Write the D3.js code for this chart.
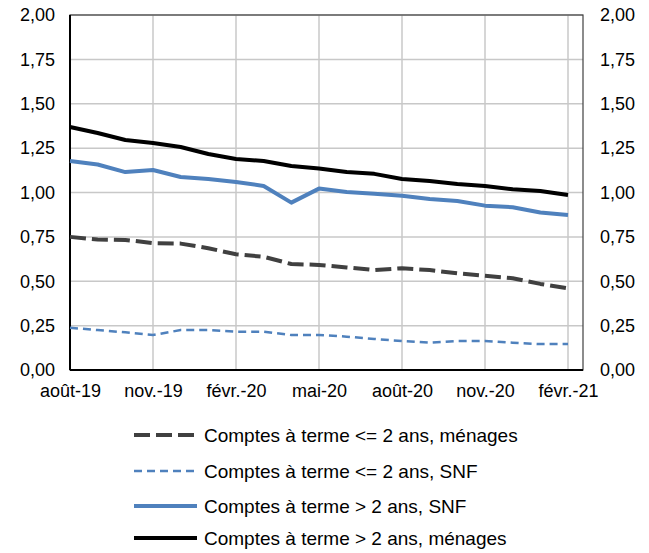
<!DOCTYPE html>
<html><head><meta charset="utf-8">
<script src="https://cdn.jsdelivr.net/npm/d3@7"></script>
<style>body{margin:0;background:#fff;} svg{display:block;}</style>
</head><body>
<svg id="c" width="649" height="553"></svg>
<script>
const months = ["août-19","sept.-19","oct.-19","nov.-19","déc.-19","janv.-20","févr.-20","mars-20","avr.-20","mai-20","juin-20","juil.-20","août-20","sept.-20","oct.-20","nov.-20","déc.-20","janv.-21","févr.-21"];
const tickLabels = ["août-19","nov.-19","févr.-20","mai-20","août-20","nov.-20","févr.-21"];
const yTicks = [0,0.25,0.5,0.75,1,1.25,1.5,1.75,2];
const menagesCourt = [0.75,0.735,0.733,0.715,0.712,0.686,0.652,0.638,0.597,0.592,0.578,0.563,0.573,0.563,0.545,0.531,0.517,0.485,0.46];
const snfCourt = [0.238,0.225,0.212,0.197,0.225,0.225,0.216,0.216,0.197,0.197,0.188,0.175,0.163,0.154,0.163,0.163,0.154,0.146,0.146];
const snfLong = [1.177,1.158,1.115,1.127,1.087,1.076,1.059,1.037,0.943,1.022,1.003,0.993,0.982,0.963,0.952,0.926,0.917,0.887,0.873];
const menagesLong = [1.369,1.335,1.296,1.279,1.256,1.217,1.189,1.177,1.149,1.135,1.115,1.105,1.076,1.065,1.048,1.037,1.018,1.008,0.986];
const seriesNames = ["Comptes à terme <= 2 ans, ménages","Comptes à terme <= 2 ans, SNF","Comptes à terme > 2 ans, SNF","Comptes à terme > 2 ans, ménages"];

const styles = [
  {color:"#404040", width:4, dash:"16,6"},
  {color:"#4f81bd", width:2.5, dash:"8,5"},
  {color:"#4f81bd", width:4, dash:null},
  {color:"#000000", width:4, dash:null}
];
const data = [menagesCourt, snfCourt, snfLong, menagesLong];

const svg = d3.select("#c");
const L = 70, R = 583, T = 15, B = 370;
const x = d3.scaleLinear().domain([0, months.length-1]).range([L, 568]);
const y = d3.scaleLinear().domain([0, 2]).range([B, T]);
const font = "Liberation Sans, Arial, sans-serif";
const fs = 18;

// grid
const g = svg.append("g");
g.selectAll("line.h").data(yTicks).enter().append("line")
  .attr("x1", L).attr("x2", R).attr("y1", d=>y(d)).attr("y2", d=>y(d))
  .attr("stroke", "#c8c8c8").attr("stroke-width", 1.5);
const tickIdx = tickLabels.map(t => months.indexOf(t));
g.selectAll("line.v").data(tickIdx).enter().append("line")
  .attr("x1", d=>x(d)).attr("x2", d=>x(d)).attr("y1", T).attr("y2", B)
  .attr("stroke", "#c8c8c8").attr("stroke-width", 1.5);

// frame
svg.append("rect").attr("x", L).attr("y", T).attr("width", R-L).attr("height", B-T)
  .attr("fill", "none").attr("stroke", "#404040").attr("stroke-width", 1.2);
svg.append("line").attr("x1", L).attr("x2", L).attr("y1", T).attr("y2", B).attr("stroke", "#000").attr("stroke-width", 2);
svg.append("line").attr("x1", L).attr("x2", R).attr("y1", B).attr("y2", B).attr("stroke", "#000").attr("stroke-width", 2);

// axes labels
const fmt = d => d3.format(".2f")(d).replace(".", ",");
const yl = d3.axisLeft(y).tickValues(yTicks).tickFormat(fmt).tickSize(0).tickPadding(15);
const yr = d3.axisRight(y).tickValues(yTicks).tickFormat(fmt).tickSize(0).tickPadding(17);
const xb = d3.axisBottom(x).tickValues(tickIdx).tickFormat(i => months[i]).tickSize(0).tickPadding(14);
[[yl, `translate(${L},0)`],[yr, `translate(${R},0)`],[xb, `translate(0,${B})`]].forEach(([ax, tr]) => {
  const a = svg.append("g").attr("transform", tr).call(ax);
  a.select(".domain").remove();
  a.selectAll("text").attr("font-family", font).attr("font-size", fs).attr("fill", "#000");
});

// lines
const line = d3.line().x((d,i)=>x(i)).y(d=>y(d));
data.forEach((s, k) => {
  const st = styles[k];
  const p = svg.append("path").datum(s).attr("d", line).attr("fill", "none")
    .attr("stroke", st.color).attr("stroke-width", st.width).attr("stroke-linejoin", "round");
  if (st.dash) p.attr("stroke-dasharray", st.dash);
});

// legend
const ly = [435, 471, 506, 538];
const lg = svg.append("g");
seriesNames.forEach((n, k) => {
  const st = styles[k];
  const l = lg.append("line").attr("x1", 134).attr("x2", 197).attr("y1", ly[k]).attr("y2", ly[k])
    .attr("stroke", st.color).attr("stroke-width", st.width);
  if (st.dash) l.attr("stroke-dasharray", st.dash);
  lg.append("text").attr("x", 204).attr("y", ly[k]).attr("dy", "0.35em")
    .attr("font-family", font).attr("font-size", 19).attr("fill", "#000").text(n);
});
</script>
</body></html>
